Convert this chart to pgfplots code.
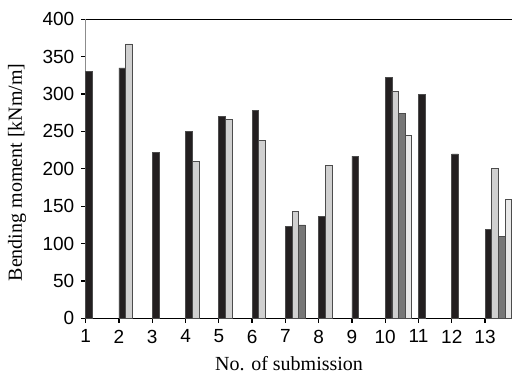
\documentclass[border=0pt]{standalone}
\usepackage{pgfplots}
\pgfplotsset{compat=1.18}
\usepackage{fontspec}
\setmainfont{Liberation Serif}
\newfontfamily\tickfont{Liberation Sans}

\definecolor{barblack}{HTML}{231F20}
\definecolor{barlight}{HTML}{D0D0D0}
\definecolor{bardark}{HTML}{777777}
\definecolor{barpale}{HTML}{E8E8E8}

\begin{document}
\begin{tikzpicture}
\path[use as bounding box] (-42.85pt,-28.85pt) rectangle (213.15pt,159.15pt);
\begin{axis}[
  at={(0pt,0pt)}, anchor=south west,
  scale only axis,
  width=213.15pt, height=149.5pt,
  xmin=1, xmax=13.81,
  ymin=0, ymax=400,
  axis x line=box, axis y line=left,
  axis line style={-, line width=0.6pt},
  y axis line style={draw=black!45},
  xtick pos=bottom, ytick pos=left,
  tick align=outside,
  major tick length=2.2pt,
  tick style={line width=0.6pt, black},
  xtick={1,...,13},
  ytick={0,50,...,400},
  ticklabel style={font=\fontsize{9.5}{11}\tickfont},
  /pgf/number format/assume math mode=true,
  xlabel={No. of submission},
  ylabel={Bending moment [kNm/m]},
  label style={font=\fontsize{10}{12}\selectfont},
  every axis x label/.style={at={(axis description cs:0.477,0)}, anchor=base, yshift=-25.9pt},
  every axis y label/.style={at={(axis description cs:0,0.488)}, xshift=-34.3pt, rotate=90, anchor=center},
  ybar, bar width=0.2, bar shift=0pt,
  every axis plot/.append style={draw=black!70, line width=0.35pt},
  clip=false,
]
% submissions with a single value
\addplot[fill=barblack, draw=black!70] coordinates {
  (1.1,330) (2.1,335) (3.1,222) (4.1,250) (5.1,270) (6.1,278) (7.1,123)
  (8.1,136) (9.1,217) (10.1,322) (11.1,300) (12.1,220) (13.1,119)};
% second value where reported
\addplot[fill=barlight, draw=black!70] coordinates {
  (2.3,367) (4.3,210) (5.3,266) (6.3,238) (7.3,143) (8.3,204) (10.3,304) (13.3,201)};
% third value
\addplot[fill=bardark, draw=black!70] coordinates {
  (7.5,125) (10.5,274) (13.5,110)};
% fourth value
\addplot[fill=barpale, draw=black!70] coordinates {
  (10.7,245) (13.7,159)};
\end{axis}
\end{tikzpicture}
\end{document}
